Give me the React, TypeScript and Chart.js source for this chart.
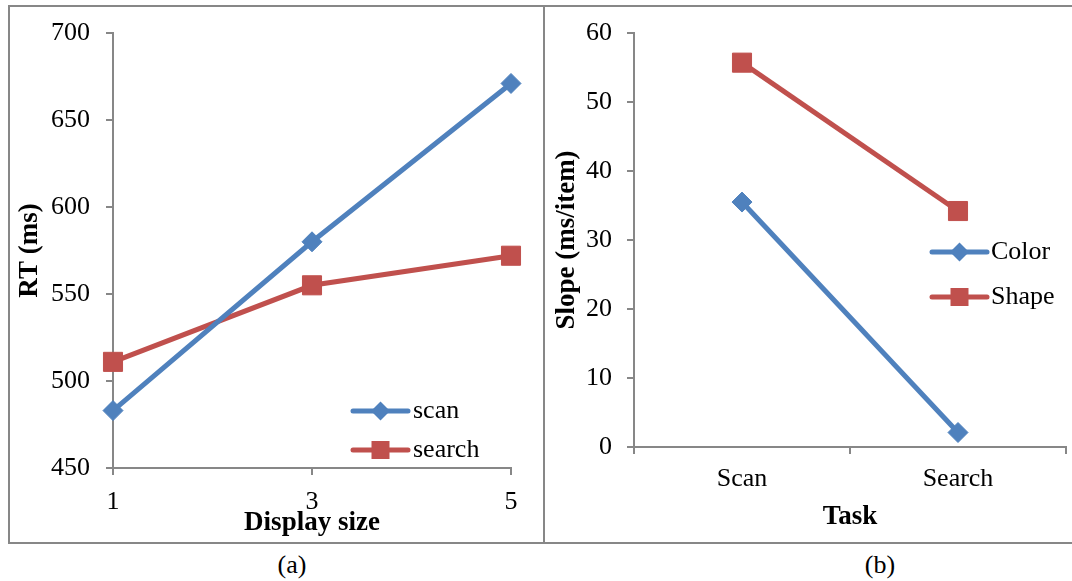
import React, { useEffect, useRef } from "react";
import { Chart, registerables } from "chart.js";

Chart.register(...registerables);

// ---- data ----
const displaySizes = [1, 3, 5];
const scanRT = [483, 580, 671];
const searchRT = [511, 555, 572];
const rtTicks = [450, 500, 550, 600, 650, 700];

const tasks = ["Scan", "Search"];
const colorSlope = [35.5, 2.1];
const shapeSlope = [55.7, 34.2];
const slopeTicks = [0, 10, 20, 30, 40, 50, 60];

const BLUE = "#4F81BD";
const RED = "#C0504D";
const AXIS = "#878787";
const FONT = "'Liberation Serif', 'Times New Roman', serif";

const drawMarker = (ctx: CanvasRenderingContext2D, style: string, x: number, y: number, color: string) => {
  ctx.fillStyle = color;
  ctx.beginPath();
  if (style === "rectRot") {
    const r = 9.5;
    ctx.moveTo(x, y - r);
    ctx.lineTo(x + r, y);
    ctx.lineTo(x, y + r);
    ctx.lineTo(x - r, y);
    ctx.closePath();
  } else {
    const h = 9;
    ctx.rect(x - h, y - h, 2 * h, 2 * h);
  }
  ctx.fill();
};

const lineLegend = {
  id: "lineLegend",
  afterDraw(chart: any, _args: any, opts: any) {
    const { ctx } = chart;
    chart.data.datasets.forEach((ds: any, i: number) => {
      const y = opts.y + i * opts.gap;
      ctx.save();
      ctx.strokeStyle = ds.borderColor;
      ctx.lineWidth = 5;
      ctx.lineCap = "round";
      ctx.beginPath();
      ctx.moveTo(opts.x, y);
      ctx.lineTo(opts.x + opts.len, y);
      ctx.stroke();
      drawMarker(ctx, ds.pointStyle, opts.x + opts.len / 2, y, ds.borderColor);
      ctx.fillStyle = "#000";
      ctx.font = `26px ${FONT}`;
      ctx.textBaseline = "middle";
      ctx.textAlign = "left";
      ctx.fillText(ds.label, opts.textX, y);
      ctx.restore();
    });
  },
};

const axisCommon = {
  grid: { drawOnChartArea: false, drawTicks: true, tickLength: 7, color: AXIS, lineWidth: 2 },
  border: { color: AXIS, width: 2 },
};

const fixSize = (w: number | null, h: number | null) => (s: any) => {
  if (w !== null) s.width = w;
  if (h !== null) s.height = h;
  s.paddingTop = 0;
  s.paddingBottom = 0;
  s.paddingLeft = 0;
  s.paddingRight = 0;
};

function LeftChart() {
  const ref = useRef<HTMLCanvasElement>(null);
  useEffect(() => {
    const chart = new Chart(ref.current!, {
      type: "line",
      data: {
        datasets: [
          {
            label: "scan",
            data: displaySizes.map((x, i) => ({ x, y: scanRT[i] })),
            borderColor: BLUE,
            backgroundColor: BLUE,
            borderWidth: 5,
            pointStyle: "rectRot",
            pointRadius: 10,
            pointBorderWidth: 1,
            clip: false,
          },
          {
            label: "search",
            data: displaySizes.map((x, i) => ({ x, y: searchRT[i] })),
            borderColor: RED,
            backgroundColor: RED,
            borderWidth: 5,
            pointStyle: "rect",
            pointRadius: 13.5,
            pointBorderWidth: 1,
            clip: false,
          },
        ],
      },
      options: {
        responsive: false,
        animation: false,
        devicePixelRatio: 1,
        layout: { autoPadding: false, padding: { top: 26, right: 32, bottom: 0, left: 0 } },
        plugins: {
          legend: { display: false },
          tooltip: { enabled: false },
          lineLegend: { x: 343, len: 55, textX: 403, y: 404, gap: 39 },
        } as any,
        scales: {
          x: {
            type: "linear",
            min: 1,
            max: 5,
            afterBuildTicks: (s: any) => {
              s.ticks = displaySizes.map((v) => ({ value: v }));
            },
            ticks: { color: "#000", font: { family: FONT, size: 26 }, padding: 12 },
            title: {
              display: true,
              text: "Display size",
              color: "#000",
              font: { family: FONT, size: 27, weight: "bold" },
              padding: { top: 0, bottom: 3 },
            },
            afterFit: fixSize(null, 74),
            ...axisCommon,
          },
          y: {
            min: 450,
            max: 700,
            afterBuildTicks: (s: any) => {
              s.ticks = rtTicks.map((v) => ({ value: v }));
            },
            ticks: { color: "#000", font: { family: FONT, size: 26 }, padding: 16 },
            title: {
              display: true,
              text: "RT (ms)",
              color: "#000",
              font: { family: FONT, size: 27, weight: "bold" },
              padding: { top: 4, bottom: 0 },
            },
            afterFit: fixSize(103, null),
            ...axisCommon,
          },
        },
      } as any,
      plugins: [lineLegend as any],
    });
    return () => chart.destroy();
  }, []);
  return (
    <canvas
      ref={ref}
      width={533}
      height={535}
      style={{ position: "absolute", left: 10, top: 7, width: 533, height: 535 }}
    />
  );
}

function RightChart() {
  const ref = useRef<HTMLCanvasElement>(null);
  useEffect(() => {
    const chart = new Chart(ref.current!, {
      type: "line",
      data: {
        labels: tasks,
        datasets: [
          {
            label: "Color",
            data: colorSlope,
            borderColor: BLUE,
            backgroundColor: BLUE,
            borderWidth: 5,
            pointStyle: "rectRot",
            pointRadius: 10,
            pointBorderWidth: 1,
            clip: false,
          },
          {
            label: "Shape",
            data: shapeSlope,
            borderColor: RED,
            backgroundColor: RED,
            borderWidth: 5,
            pointStyle: "rect",
            pointRadius: 13.5,
            pointBorderWidth: 1,
            clip: false,
          },
        ],
      },
      options: {
        responsive: false,
        animation: false,
        devicePixelRatio: 1,
        layout: { autoPadding: false, padding: { top: 26, right: 6, bottom: 0, left: 0 } },
        plugins: {
          legend: { display: false },
          tooltip: { enabled: false },
          lineLegend: { x: 385, len: 55, textX: 444, y: 245, gap: 45 },
        } as any,
        scales: {
          x: {
            type: "category",
            offset: true,
            ticks: { color: "#000", font: { family: FONT, size: 26 }, padding: 10 },
            title: {
              display: true,
              text: "Task",
              color: "#000",
              font: { family: FONT, size: 27, weight: "bold" },
              padding: { top: 0, bottom: 9 },
            },
            afterFit: fixSize(null, 95),
            ...axisCommon,
            grid: { ...axisCommon.grid, offset: true },
          },
          y: {
            min: 0,
            max: 60,
            afterBuildTicks: (s: any) => {
              s.ticks = slopeTicks.map((v) => ({ value: v }));
            },
            ticks: { color: "#000", font: { family: FONT, size: 26 }, padding: 15 },
            title: {
              display: true,
              text: "Slope (ms/item)",
              color: "#000",
              font: { family: FONT, size: 27, weight: "bold" },
              padding: { top: 4, bottom: 0 },
            },
            afterFit: fixSize(87, null),
            ...axisCommon,
          },
        },
      } as any,
      plugins: [lineLegend as any],
    });
    return () => chart.destroy();
  }, []);
  return (
    <canvas
      ref={ref}
      width={525}
      height={535}
      style={{ position: "absolute", left: 547, top: 7, width: 525, height: 535 }}
    />
  );
}

export default function App() {
  return (
    <div
      style={{
        position: "absolute",
        left: 0,
        top: 0,
        width: 1072,
        height: 581,
        background: "#fff",
        overflow: "hidden",
        fontFamily: FONT,
      }}
    >
      <div
        style={{
          position: "absolute",
          left: 8,
          top: 5,
          width: 1062,
          height: 535,
          borderLeft: `2px solid ${AXIS}`,
          borderTop: `2px solid ${AXIS}`,
          borderBottom: `2px solid ${AXIS}`,
        }}
      />
      <div style={{ position: "absolute", left: 543, top: 5, width: 2, height: 539, background: AXIS }} />
      <LeftChart />
      <RightChart />
      <div
        style={{
          position: "absolute",
          left: 222,
          width: 140,
          top: 549,
          textAlign: "center",
          fontSize: 26,
          lineHeight: "32px",
          color: "#000",
        }}
      >
        (a)
      </div>
      <div
        style={{
          position: "absolute",
          left: 810,
          width: 140,
          top: 549,
          textAlign: "center",
          fontSize: 26,
          lineHeight: "32px",
          color: "#000",
        }}
      >
        (b)
      </div>
    </div>
  );
}
